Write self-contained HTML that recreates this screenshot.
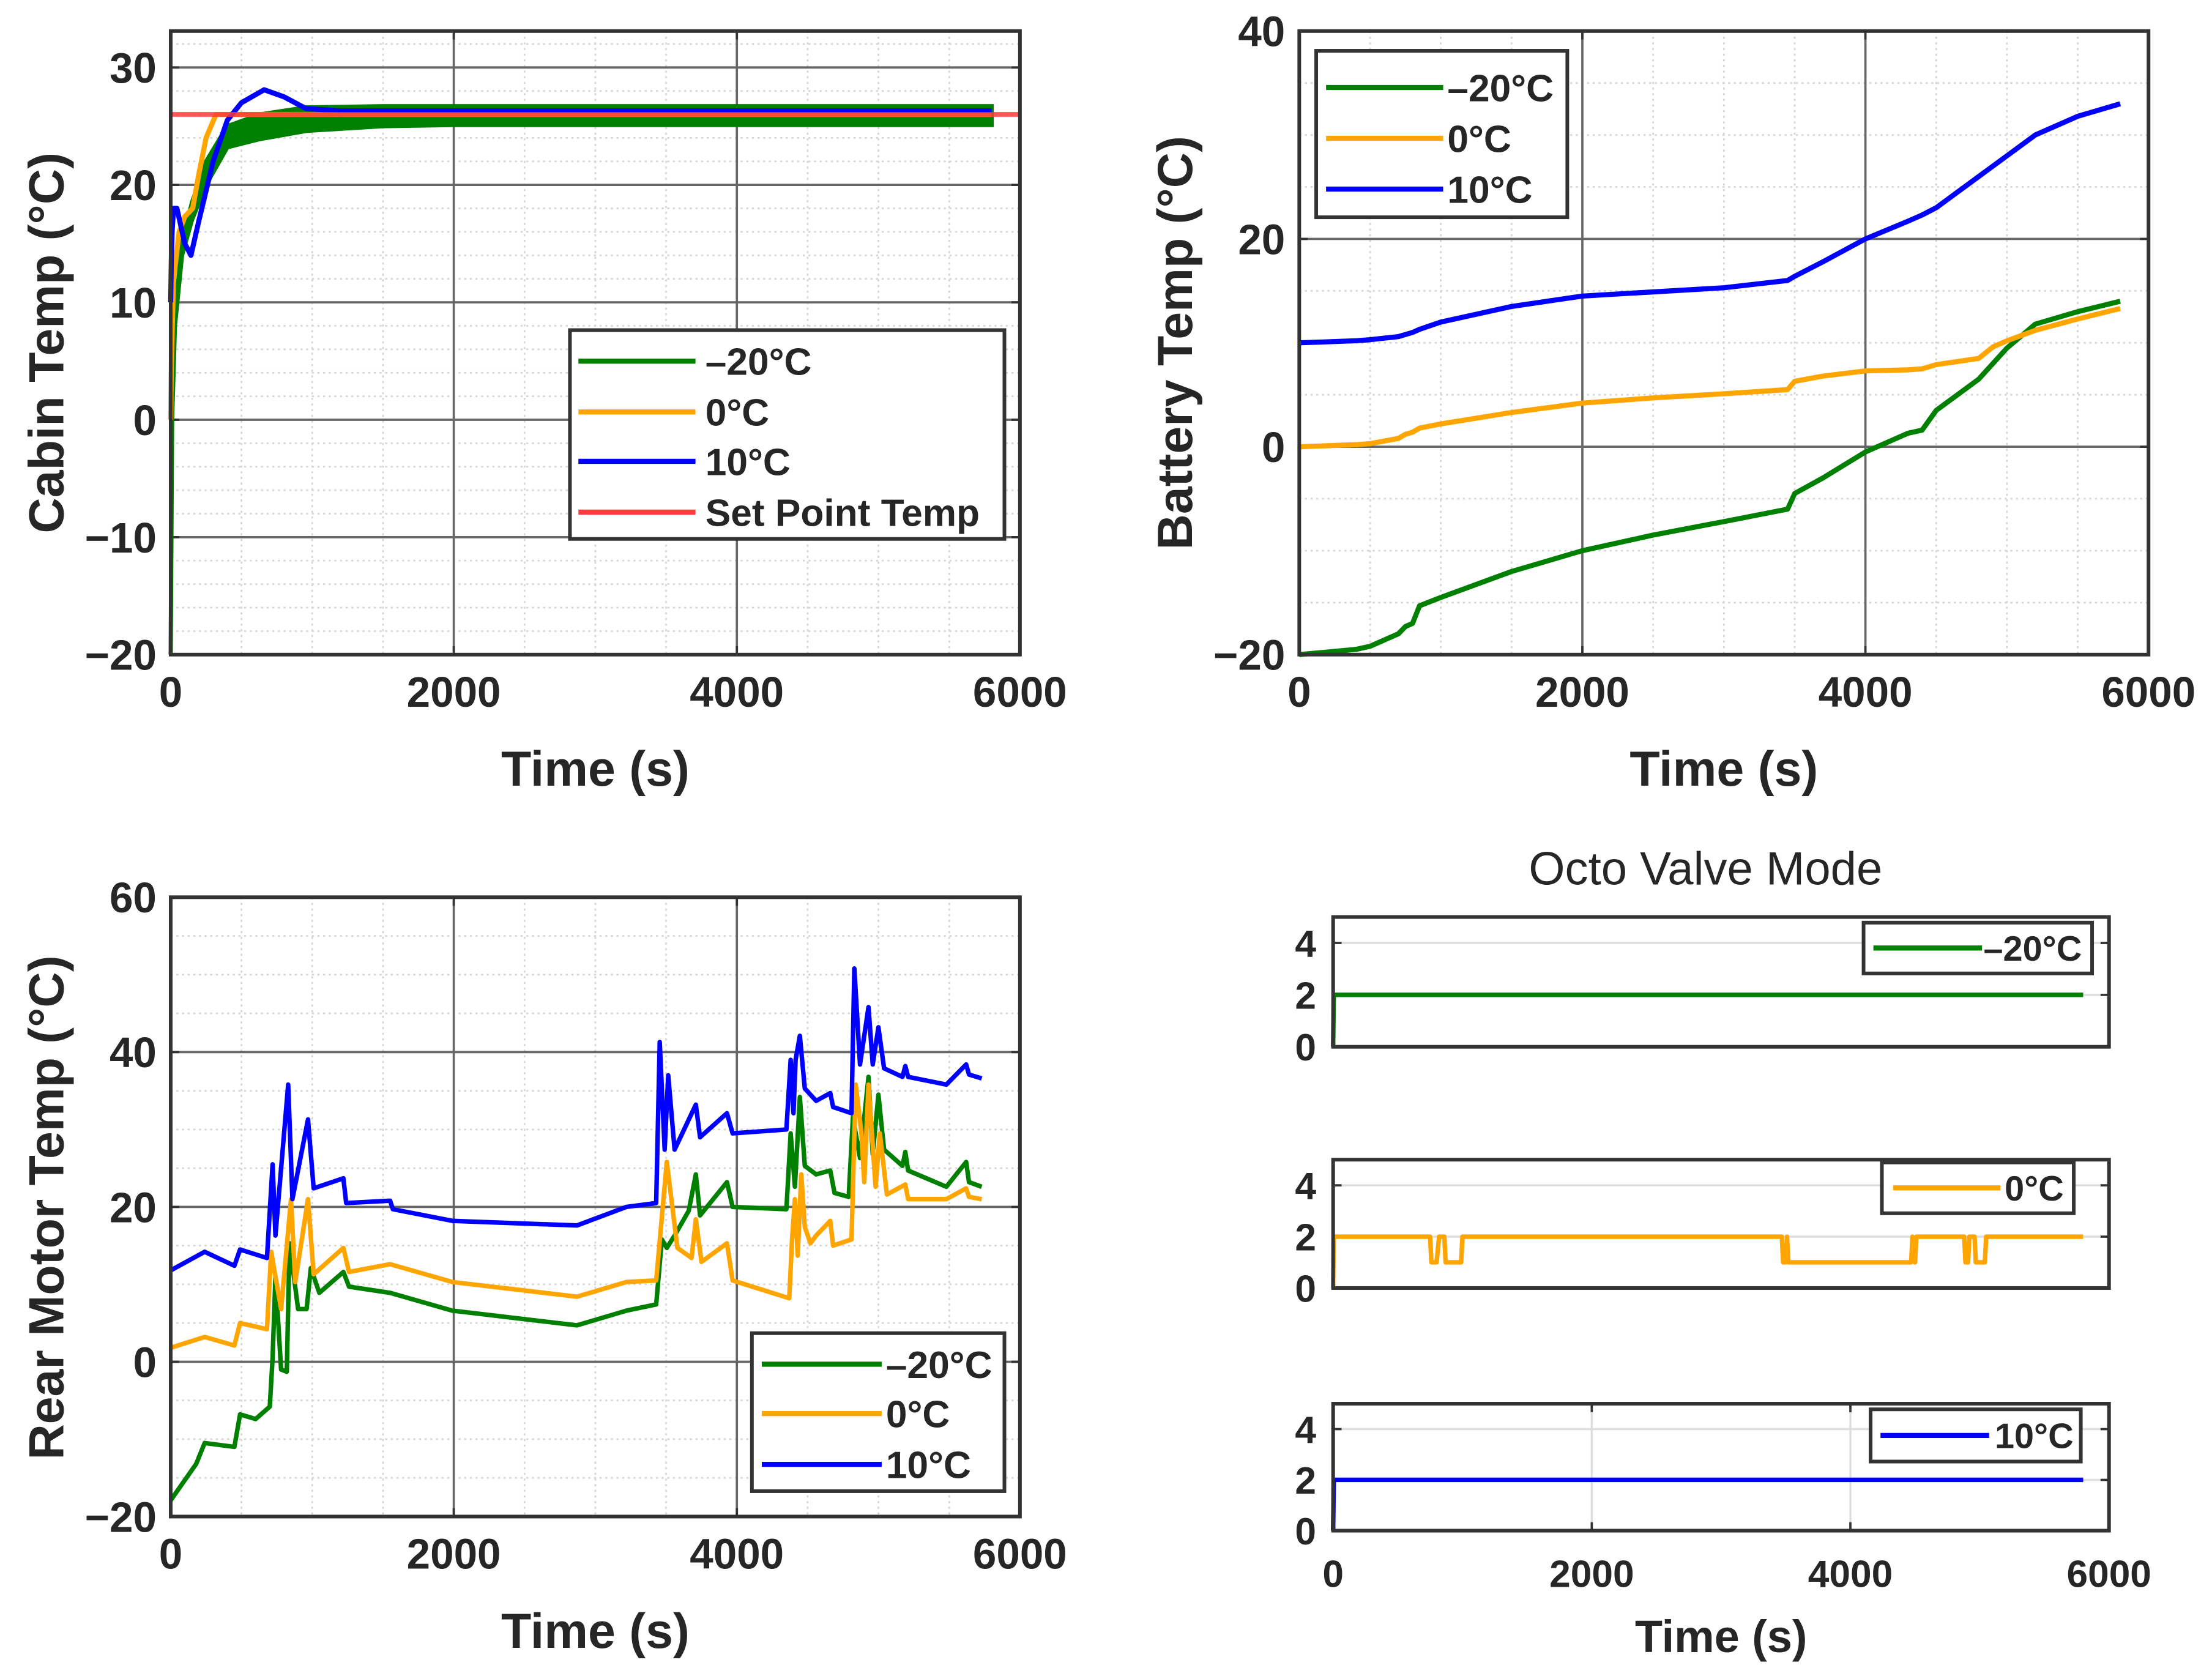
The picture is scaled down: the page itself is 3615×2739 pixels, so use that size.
<!DOCTYPE html>
<html><head><meta charset="utf-8"><style>
html,body{margin:0;padding:0;background:#fff;}
svg{display:block;}
text{font-family:"Liberation Sans",Arial,sans-serif;fill:#262626;}
</style></head><body>
<svg id="fig" xmlns="http://www.w3.org/2000/svg" width="3615" height="2739" viewBox="0 0 1568 1188"></svg>
<script>
// ---------- DATA ----------
const cabinTime = [0,5,10,20,44,100,143,200,300,400,500,660,800,956,1200,1500,2000,3000,4000,5000,5800];
const cabinBlue = [10,14,16,18,18,15,14,17,22,25.5,27,28.1,27.5,26.5,26.3,26.3,26.3,26.3,26.3,26.3,26.3];
const orangeTime = [0,5,20,60,100,155,200,250,320,400,600,1000,2000,4000,5800];
const cabinOrange = [0,5,12,16,17.3,18,21,24,26,26,26,26,26,26,26];
const greenTime = [0,10,30,80,150,250,400,630,960,1500,2000,3000,4000,5000,5800];
const greenLow = [-20,0,8,14,17,20,23.2,23.9,24.6,25,25.1,25.1,25.1,25.1,25.1];
const greenHigh = [-20,0,9,15,18.5,22,25,26,26.6,26.7,26.7,26.7,26.7,26.7,26.7];
const setPoint = 26;
const batTime = [0,400,500,700,750,800,850,1000,1500,2000,2500,3000,3450,3500,3700,4000,4300,4400,4500,4800,4900,5000,5200,5500,5800];
const batBlue = [10,10.2,10.3,10.6,10.8,11,11.3,12,13.5,14.5,14.9,15.3,16,16.4,17.8,20,21.7,22.3,23,26,27,28,30,31.8,33];
const batOrange = [0,0.2,0.3,0.8,1.2,1.4,1.8,2.2,3.3,4.2,4.7,5.1,5.5,6.3,6.8,7.3,7.4,7.5,7.9,8.5,9.6,10.2,11.2,12.3,13.3];
const batGreen = [-20,-19.5,-19.2,-18,-17.3,-17,-15.3,-14.5,-12,-10,-8.5,-7.2,-6,-4.5,-3,-0.5,1.3,1.6,3.5,6.5,8,9.5,11.8,13,14];
const motBlueT = [0,240,450,490,680,720,740,830,860,970,1010,1220,1240,1550,1570,1990,2870,3220,3430,3455,3490,3515,3560,3710,3740,3930,3970,4350,4380,4400,4415,4445,4480,4560,4660,4680,4810,4830,4870,4930,4960,5000,5040,5170,5190,5210,5480,5620,5640,5730];
const motBlueV = [11.8,14.2,12.4,14.5,13.4,25.5,16.3,35.8,21,31.3,22.4,23.7,20.5,20.8,19.7,18.2,17.6,20,20.5,41.3,27.4,37,27.4,33.2,29,32.1,29.5,30,39,32.1,39,42.1,35.3,33.7,34.7,32.9,32.1,50.8,38.4,45.8,38.4,43.2,37.9,36.8,38.2,36.8,35.8,38.4,37.1,36.6];
const motOrangeT = [0,240,450,490,680,710,780,850,880,970,1010,1220,1260,1550,1990,2870,3220,3430,3505,3580,3680,3710,3750,3930,3970,4370,4390,4410,4430,4455,4480,4520,4560,4660,4680,4810,4840,4880,4900,4930,4980,5010,5060,5190,5210,5480,5620,5640,5730];
const motOrangeV = [1.8,3.2,2.1,5,4.2,14.2,6.8,21,10.3,21,11.3,14.7,11.6,12.6,10.3,8.4,10.3,10.5,25.8,14.7,13.4,18.4,12.9,15.3,10.5,8.2,15.8,21,13.7,24.2,17.4,15.3,16.3,18.2,15,15.8,35.8,29.5,23.2,35.8,22.6,29.5,21.6,22.9,21,21,22.4,21.3,21];
const motGreenT = [0,180,240,450,490,600,700,720,740,780,820,840,900,960,990,1050,1220,1260,1550,1990,2870,3220,3430,3470,3505,3560,3660,3710,3740,3930,3970,4350,4380,4410,4445,4480,4560,4660,4690,4790,4820,4870,4930,4960,5000,5040,5170,5190,5210,5480,5620,5640,5730];
const motGreenV = [-17.9,-13.2,-10.5,-11,-6.8,-7.4,-5.8,0.5,11,-1,-1.3,15.3,6.8,6.8,12.1,8.9,11.6,9.7,8.9,6.6,4.7,6.6,7.4,15.8,14.7,16.3,19.5,24.2,18.9,23.2,20,19.7,29.5,22.6,34.2,25.3,24.2,24.7,21.8,21.3,31.6,26.3,36.8,26.8,34.5,27.4,25.3,27.1,24.7,22.6,25.8,23.2,22.6];
const valveGreenT = [0,5,5800];
const valveGreenV = [0,2,2];
const valveOrangeT = [0,5,750,760,800,820,860,870,990,1000,3470,3480,3500,3510,3520,4470,4480,4500,4510,4520,4880,4890,4910,4920,4960,4970,5040,5050,5800];
const valveOrangeV = [0,2,2,1,1,2,2,1,1,2,2,1,1,2,1,1,2,1,2,2,2,1,1,2,2,1,1,2,2];
const valveBlueT = [0,5,5800];
const valveBlueV = [0,2,2];
const xTicks = [0,2000,4000,6000];

const GREEN='#008000', ORANGE='#FFA500', BLUE='#0000FF', RED='#FF3B3B';
const NS='http://www.w3.org/2000/svg';
const fig=document.getElementById('fig');
function mk(tag,attrs,parent){const e=document.createElementNS(NS,tag);for(const k in attrs)e.setAttribute(k,attrs[k]);(parent||fig).appendChild(e);return e;}
function scale(d0,d1,r0,r1){return v=>r0+(v-d0)*(r1-r0)/(d1-d0);}
function pathD(xs,ys,sx,sy){return xs.map((t,i)=>(i?'L':'M')+sx(t).toFixed(2)+','+sy(ys[i]).toFixed(2)).join('');}

function axes(o){
  const g=mk('g',{});
  
  
  const sx=scale(0,6000,o.x0,o.x1), sy=scale(o.ymin,o.ymax,o.y1,o.y0);
  mk('rect',{x:o.x0,y:o.y0,width:o.x1-o.x0,height:o.y1-o.y0,fill:'#fff'},g);
  if(o.minor){
    for(let t=500;t<6000;t+=500){if(t%2000===0)continue;const l=mk('line',{x1:sx(t),x2:sx(t),y1:o.y0,y2:o.y1,stroke:'#d6d6d6','stroke-width':1.2,'stroke-dasharray':'1.5 2.5'},g);}
    for(let v=o.ymin+o.minor;v<o.ymax;v+=o.minor){if(o.yticks.includes(v))continue;const l=mk('line',{x1:o.x0,x2:o.x1,y1:sy(v),y2:sy(v),stroke:'#d6d6d6','stroke-width':1.2,'stroke-dasharray':'1.5 2.5'},g);}
  }
  const gc=o.light?'#dedede':'#666', gw=o.light?1.5:1.6;
  if(o.xgrid!==false) xTicks.forEach(t=>{if(t>0&&t<6000){const l=mk('line',{x1:sx(t),x2:sx(t),y1:o.y0,y2:o.y1,stroke:gc,'stroke-width':gw},g);}});
  o.yticks.forEach(v=>{if(v>o.ymin&&v<o.ymax){const l=mk('line',{x1:o.x0,x2:o.x1,y1:sy(v),y2:sy(v),stroke:gc,'stroke-width':gw},g);}});
  const fs=o.tfs||30;
  o.yticks.forEach(v=>{mk('line',{x1:o.x0,x2:o.x0+6,y1:sy(v),y2:sy(v),stroke:'#333','stroke-width':1.6},g);mk('line',{x1:o.x1,x2:o.x1-6,y1:sy(v),y2:sy(v),stroke:'#333','stroke-width':1.6},g);
    const t=mk('text',{x:o.x0-(o.tickGap||10),y:sy(v)+fs*0.36,'text-anchor':'end','font-size':fs,'font-weight':'bold'},g);t.textContent=(v<0?'\u2212':'')+Math.abs(v);});
  if(o.xlabels){xTicks.forEach(v=>{const t=mk('text',{x:sx(v),y:o.y1+(o.xlo||37),'text-anchor':'middle','font-size':fs,'font-weight':'bold'},g);t.textContent=v;});}
  if(o.xticks){xTicks.forEach(v=>{mk('line',{x1:sx(v),x2:sx(v),y1:o.y1,y2:o.y1-6,stroke:'#333','stroke-width':1.6},g);mk('line',{x1:sx(v),x2:sx(v),y1:o.y0,y2:o.y0+6,stroke:'#333','stroke-width':1.6},g);});}
  return {g,sx,sy};
}
function series(ax,xs,ys,color,name,w){const p=mk('path',{d:pathD(xs,ys,ax.sx,ax.sy),fill:'none',stroke:color,'stroke-width':w||3.6,'stroke-linejoin':'round'},ax.g);return p;}
function frame(ax,o){const r=mk('rect',{x:o.x0,y:o.y0,width:o.x1-o.x0,height:o.y1-o.y0,fill:'none',stroke:'#333','stroke-width':2.6},ax.g);}
function legend(bx,by,bw,bh,entries,lx0,lx1,tx,fs,name){
  const g=mk('g',{});
  mk('rect',{x:bx,y:by,width:bw,height:bh,fill:'#fff',stroke:'#333','stroke-width':2.6},g);
  entries.forEach(e=>{const l=mk('line',{x1:lx0,x2:lx1,y1:e.y,y2:e.y,stroke:e.c,'stroke-width':3.6},g);
    const t=mk('text',{x:tx,y:e.y+fs*0.36,'font-size':fs,'font-weight':'bold'},g);t.textContent=e.t;});
}
function label(x,y,txt,fs,rot,name,weight){const t=mk('text',{x,y,'text-anchor':'middle','font-size':fs,'font-weight':weight||'bold',transform:rot?`rotate(-90 ${x} ${y})`:''});t.textContent=txt;}

// ---------- Cabin ----------
const oC={name:'cabin-temp-chart',x0:121,x1:723,y0:22,y1:464,ymin:-20,ymax:33.1,yticks:[-20,-10,0,10,20,30],minor:2,xlabels:true,xticks:true};
const aC=axes(oC);
{const d=pathD(greenTime,greenHigh,aC.sx,aC.sy)+greenTime.slice().reverse().map((t,i)=>'L'+aC.sx(t).toFixed(2)+','+aC.sy(greenLow[greenLow.length-1-i]).toFixed(2)).join('')+'Z';
 const p=mk('path',{d,fill:GREEN,stroke:GREEN,'stroke-width':3},aC.g);}
series(aC,orangeTime,cabinOrange,ORANGE,'series-0c');
series(aC,cabinTime,cabinBlue,BLUE,'series-10c');
{const l=mk('line',{x1:oC.x0,x2:oC.x1,y1:aC.sy(setPoint),y2:aC.sy(setPoint),stroke:RED,'stroke-width':3.4,opacity:0.85},aC.g);}
frame(aC,oC);
legend(404,234,308,148,[{y:256,c:GREEN,t:'\u201320\u00B0C'},{y:292,c:ORANGE,t:'0\u00B0C'},{y:327,c:BLUE,t:'10\u00B0C'},{y:363,c:RED,t:'Set Point Temp'}],410,493,500,27,'cabin-legend');
label(422,557,'Time (s)',35,false,'x-axis-title');
label(45,243,'Cabin Temp (\u00B0C)',35,true,'y-axis-title');

// ---------- Battery ----------
const oB={name:'battery-temp-chart',x0:921,x1:1523,y0:22,y1:464,ymin:-20,ymax:40,yticks:[-20,0,20,40],minor:5,xlabels:true,xticks:true};
const aB=axes(oB);
series(aB,batTime,batGreen,GREEN,'series-minus20');
series(aB,batTime,batOrange,ORANGE,'series-0c');
series(aB,batTime,batBlue,BLUE,'series-10c');
frame(aB,oB);
legend(933,36,178,118,[{y:62,c:GREEN,t:'\u201320\u00B0C'},{y:98,c:ORANGE,t:'0\u00B0C'},{y:134,c:BLUE,t:'10\u00B0C'}],940,1023,1026,27,'battery-legend');
label(1222,557,'Time (s)',35,false,'x-axis-title');
label(845,243,'Battery Temp (\u00B0C)',35,true,'y-axis-title');

// ---------- Motor ----------
const oM={name:'rear-motor-temp-chart',x0:121,x1:723,y0:636,y1:1075,ymin:-20,ymax:60,yticks:[-20,0,20,40,60],minor:5,xlabels:true,xticks:true};
const aM=axes(oM);
series(aM,motGreenT,motGreenV,GREEN,'series-minus20',3.2);
series(aM,motOrangeT,motOrangeV,ORANGE,'series-0c',3.2);
series(aM,motBlueT,motBlueV,BLUE,'series-10c',3.2);
frame(aM,oM);
legend(533,945,179,112,[{y:967,c:GREEN,t:'\u201320\u00B0C'},{y:1002,c:ORANGE,t:'0\u00B0C'},{y:1038,c:BLUE,t:'10\u00B0C'}],540,625,628,27,'motor-legend');
label(422,1168,'Time (s)',35,false,'x-axis-title');
label(45,856,'Rear Motor Temp (\u00B0C)',35,true,'y-axis-title');

// ---------- Octo valve ----------
label(1209,627,'Octo Valve Mode',33,false,'octo-title','normal');
const subs=[
 {name:'valve-minus20-chart',y0:650,y1:742,T:valveGreenT,V:valveGreenV,c:GREEN,lg:[1321,654,162,36,1328,1405,1406,'\u201320\u00B0C']},
 {name:'valve-0c-chart',y0:822,y1:913,T:valveOrangeT,V:valveOrangeV,c:ORANGE,lg:[1334,824,136,36,1342,1418,1421,'0\u00B0C']},
 {name:'valve-10c-chart',y0:995,y1:1085,T:valveBlueT,V:valveBlueV,c:BLUE,lg:[1326,999,149,37,1333,1410,1414,'10\u00B0C']}
];
subs.forEach((s,i)=>{
  const o={name:s.name,x0:945,x1:1495,y0:s.y0,y1:s.y1,ymin:0,ymax:5,yticks:[0,2,4],light:true,xgrid:i===2,xlabels:i===2,xticks:i===2,tfs:27,tickGap:12,xlo:40};
  const a=axes(o);
  series(a,s.T,s.V,s.c,'valve-series',3.2);
  frame(a,o);
  const L=s.lg;
  legend(L[0],L[1],L[2],L[3],[{y:L[1]+L[3]/2,c:s.c,t:L[7]}],L[4],L[5],L[6],25,'valve-legend');
});
label(1220,1171,'Time (s)',32,false,'x-axis-title');
</script>
</body></html>
